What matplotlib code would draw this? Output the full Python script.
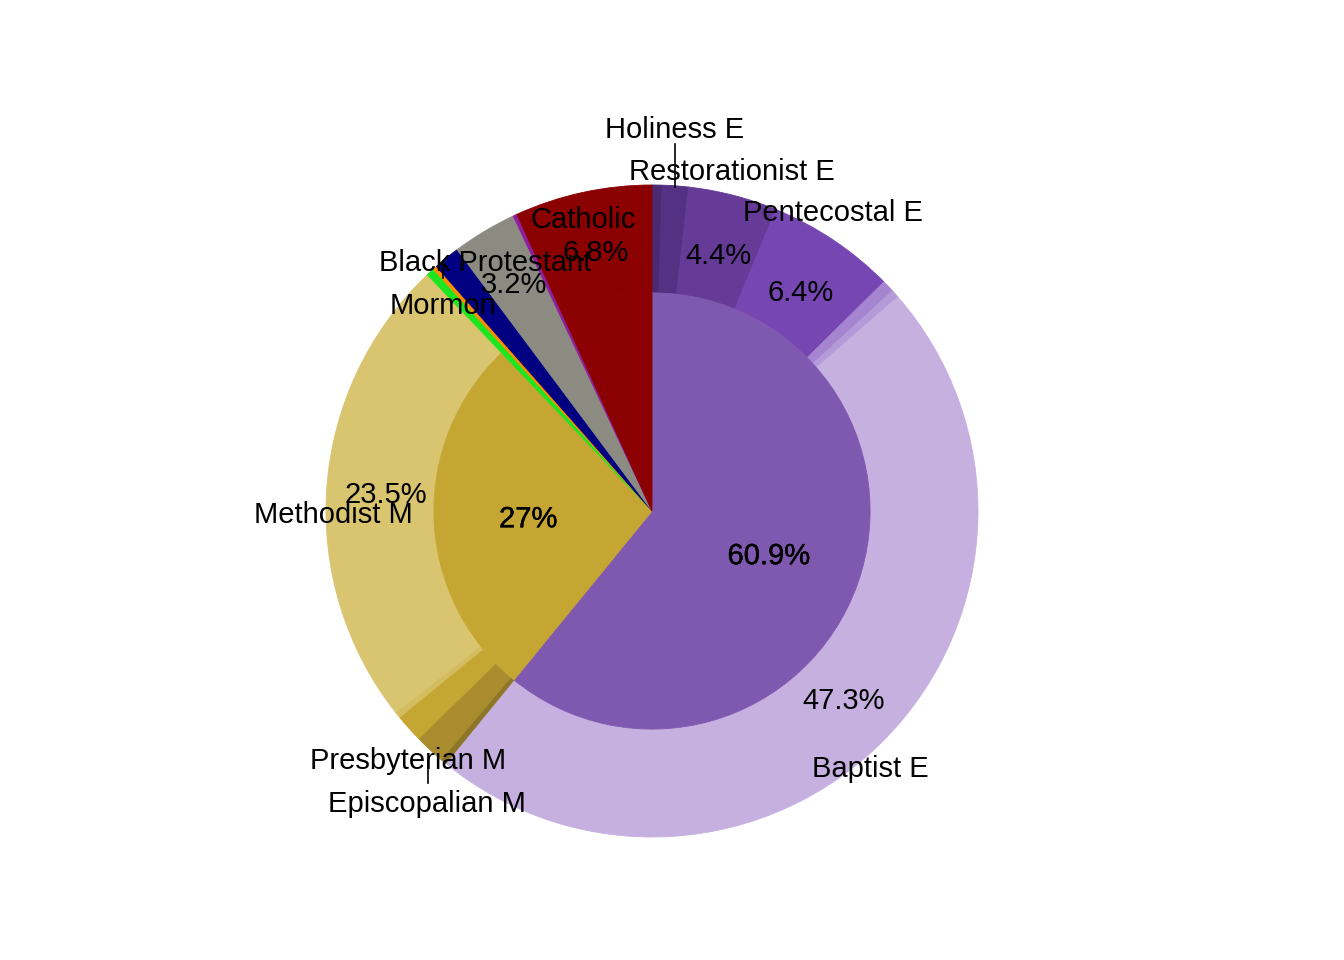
import matplotlib
matplotlib.use('Agg')
import numpy as np
import matplotlib.pyplot as plt
import matplotlib.patheffects as pe

plt.rcParams['font.family'] = ['Liberation Sans', 'DejaVu Sans']

# inner ring: top-level traditions (percent)
inner_names = ['Evangelical', 'Mainline', 'Mormon', 'Jehovah', 'Black Protestant',
               'Other', 'Orthodox', 'Catholic']
inner_vals = [60.9, 27.0, 0.4, 0.2, 1.3, 3.2, 0.2, 6.8]
inner_colors = ['#7f58af', '#c5a632', '#1ee61e', '#ff8c00', '#000080',
                '#8c8b82', '#8e1e9e', '#8b0000']

# outer ring: denominations (percent)
outer_names = ['', 'Holiness E', 'Restorationist E', 'Pentecostal E', '', '',
               'Baptist E', '', 'Episcopalian M', 'Presbyterian M', '',
               'Methodist M', 'Mormon', '', 'Black Protestant', '', '', 'Catholic']
outer_vals = [0.5, 1.3, 4.4, 6.4, 0.6, 0.4, 47.3,
              0.3, 1.5, 1.4, 0.3, 23.5,
              0.4, 0.2, 1.3, 3.2, 0.2, 6.8]
outer_colors = ['#4a2b72', '#553183', '#653b97', '#7646b2', '#a585cf', '#b49ad8',
                '#c5b0e0',
                '#8e7628', '#a88c2d', '#c5a632', '#d4bd60', '#d9c46f',
                '#1ee61e', '#ff8c00', '#000080', '#8c8b82', '#8e1e9e', '#8b0000']

# where the outer names sit (hand placed, like the original repel layout)
name_xy = {
    'Holiness E': (0.068, 1.175),
    'Restorationist E': (0.245, 1.046),
    'Pentecostal E': (0.555, 0.920),
    'Baptist E': (0.669, -0.785),
    'Episcopalian M': (-0.690, -0.893),
    'Presbyterian M': (-0.748, -0.761),
    'Methodist M': (-0.978, -0.006),
    'Mormon': (-0.641, 0.635),
    'Black Protestant': (-0.512, 0.767),
    'Catholic': (-0.212, 0.899),
}
leaders = [((0.0706, 1.126), (0.0706, 0.994)),
           ((-0.641, 0.761), (-0.641, 0.715)),
           ((-0.687, -0.764), (-0.687, -0.834))]

R_OUT = 1.0
R_IN = 0.669
FS = 21
DY = -0.011  # nudge labels down a touch

fig = plt.figure(figsize=(13.44, 9.6), dpi=100)
ax = fig.add_axes([0, 0, 1, 1])

w_out, _ = ax.pie(outer_vals, colors=outer_colors, radius=R_OUT, startangle=90,
                  counterclock=False, wedgeprops=dict(width=R_OUT - R_IN, linewidth=0.6))
w_in, _ = ax.pie(inner_vals, colors=inner_colors, radius=R_IN, startangle=90,
                 counterclock=False, wedgeprops=dict(linewidth=0.6))
for w in list(w_out) + list(w_in):
    w.set_edgecolor(w.get_facecolor())


def mid_angles(vals):
    edges = np.concatenate([[0], np.cumsum(vals)]) / np.sum(vals) * 2 * np.pi
    return (edges[:-1] + edges[1:]) / 2


# percent labels inside the ring
for v, a in zip(outer_vals, mid_angles(outer_vals)):
    if v >= 3:
        r = 0.82
        ax.text(r * np.sin(a), r * np.cos(a) + DY, f'{v:g}%', fontsize=FS,
                ha='center', va='center')

# inner labels look drawn twice in the original, so give them a hairline stroke
bold_ish = [pe.withStroke(linewidth=0.3, foreground='black')]
for v, a in zip(inner_vals, mid_angles(inner_vals)):
    if v >= 20:
        r = 0.38
        ax.text(r * np.sin(a), r * np.cos(a) + DY, f'{v:g}%', fontsize=FS,
                ha='center', va='center', path_effects=bold_ish)

for name in outer_names:
    if name in name_xy:
        x, y = name_xy[name]
        ax.text(x, y - 0.006, name, fontsize=FS, ha='center', va='center')

for (x0, y0), (x1, y1) in leaders:
    ax.plot([x0, x1], [y0, y1], color='black', lw=1.2)

ax.set_xlim(-652 / 326, (1344 - 652) / 326)
ax.set_ylim((511 - 960) / 326, 511 / 326)
ax.set_aspect('auto')
ax.axis('off')

fig.savefig('out.png', dpi=100)
